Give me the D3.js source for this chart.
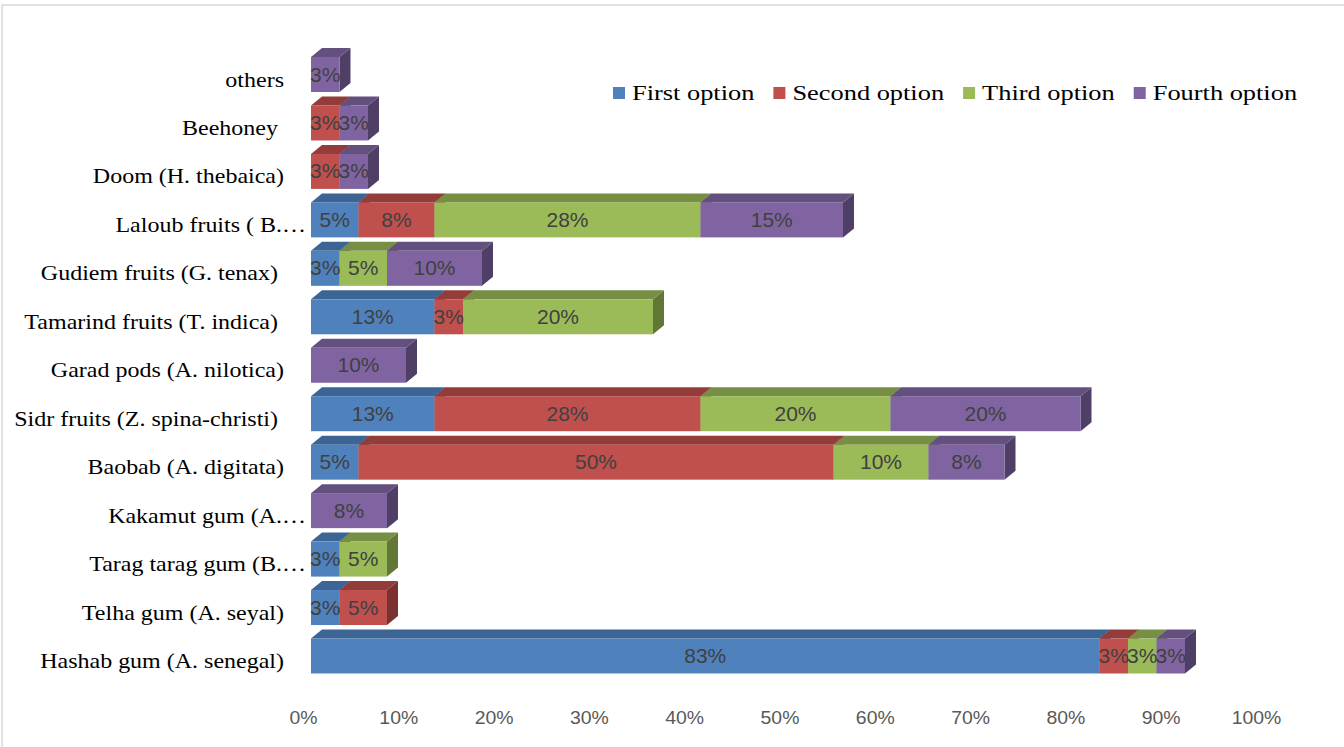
<!DOCTYPE html>
<html>
<head>
<meta charset="utf-8">
<script src="https://cdn.jsdelivr.net/npm/d3@7"></script>
<style>
  html, body { margin: 0; padding: 0; background: #fff; }
  svg { display: block; }
  text { white-space: pre; }
</style>
</head>
<body>
<svg id="chart" width="1344" height="747"></svg>
<script>
// ---- data (top row to bottom row) ----
const categories = [
  "others",
  "Beehoney ",
  "Doom (H. thebaica)",
  "Laloub fruits ( B.\u2026",
  "Gudiem fruits (G. tenax) ",
  "Tamarind fruits (T. indica) ",
  "Garad pods (A. nilotica)",
  "Sidr fruits (Z. spina-christi) ",
  "Baobab (A. digitata)",
  "Kakamut gum (A.\u2026",
  "Tarag tarag gum (B.\u2026",
  "Telha gum (A. seyal)",
  "Hashab gum (A. senegal)"
];
const seriesNames = ["First option", "Second option", "Third option", "Fourth option"];
const firstOption  = [0, 0, 0, 5, 3, 13, 0, 13, 5, 0, 3, 3, 83];
const secondOption = [0, 3, 3, 8, 0, 3, 0, 28, 50, 0, 0, 5, 3];
const thirdOption  = [0, 0, 0, 28, 5, 20, 0, 20, 10, 0, 5, 0, 3];
const fourthOption = [3, 3, 3, 15, 10, 0, 10, 20, 8, 8, 0, 0, 3];
const tickValues = [0, 10, 20, 30, 40, 50, 60, 70, 80, 90, 100];

const frontColors = ["#4F81BD", "#C0504D", "#9BBB59", "#8064A2"];
const topColors   = ["#3C6494", "#943C3A", "#778F44", "#63507F"];
const sideColors  = ["#334F73", "#7A3230", "#627636", "#4F3F66"];

// ---- build stack ----
const table = categories.map((c, i) => ({
  cat: c,
  s0: firstOption[i], s1: secondOption[i], s2: thirdOption[i], s3: fourthOption[i]
}));
const stack = d3.stack().keys(["s0", "s1", "s2", "s3"])(table);

const svg = d3.select("#chart");

// outer frame
svg.append("rect").attr("x", 2).attr("y", 5).attr("width", 1400).attr("height", 800)
  .attr("fill", "none").attr("stroke", "#D9D9D9").attr("stroke-width", 1.5);

// scales
const x = d3.scaleLinear().domain([0, 100]).range([311, 1261]);
const xAxisScale = d3.scaleLinear().domain([0, 100]).range([303, 1256]);
const y = d3.scalePoint().domain(categories).range([74.5, 656]);
const barH = 35, dx = 11, dy = 9;

// bars (per category, segments left to right)
const g = svg.append("g");
categories.forEach((c, i) => {
  const cy = y(c);
  const yT = cy - barH / 2, yB = cy + barH / 2;
  stack.forEach((layer, k) => {
    const d = layer[i];
    if (d[1] - d[0] <= 0) return;
    const x0 = x(d[0]), x1 = x(d[1]);
    // side face
    g.append("path")
      .attr("d", `M${x1},${yT}L${x1 + dx},${yT - dy}L${x1 + dx},${yB - dy}L${x1},${yB}Z`)
      .attr("fill", sideColors[k]);
    // top face
    g.append("path")
      .attr("d", `M${x0},${yT}L${x0 + dx},${yT - dy}L${x1 + dx},${yT - dy}L${x1},${yT}Z`)
      .attr("fill", topColors[k]);
    // front face
    g.append("rect")
      .attr("x", x0).attr("y", yT).attr("width", x1 - x0).attr("height", barH)
      .attr("fill", frontColors[k]);
  });
});

// value labels
const lg = svg.append("g");
categories.forEach((c, i) => {
  const cy = y(c);
  stack.forEach((layer, k) => {
    const d = layer[i];
    const v = d[1] - d[0];
    if (v <= 0) return;
    lg.append("text")
      .attr("transform", `translate(${(x(d[0]) + x(d[1])) / 2},${cy + 7}) scale(1.05,1)`)
      .attr("text-anchor", "middle")
      .attr("font-family", "Liberation Sans, Arial, sans-serif")
      .attr("font-size", 20)
      .attr("fill", "#404040")
      .text(v + "%");
  });
});

// category labels
const cg = svg.append("g");
categories.forEach(c => {
  const ax = c.includes("\u2026") ? 306 : 284;
  cg.append("text")
    .attr("transform", `translate(${ax},${y(c) + 12}) scale(1.2,1)`)
    .attr("text-anchor", "end")
    .attr("font-family", "Liberation Serif, Times New Roman, serif")
    .attr("font-size", 20)
    .attr("fill", "#000")
    .text(c);
});

// x axis tick labels
const xAxis = d3.axisBottom(xAxisScale).tickValues(tickValues).tickSize(0).tickPadding(0)
  .tickFormat(d => d + "%");
const ax = svg.append("g").attr("transform", "translate(0,706)").call(xAxis);
ax.select(".domain").remove();
ax.selectAll("text")
  .attr("font-family", "Liberation Sans, Arial, sans-serif")
  .attr("font-size", 18)
  .attr("fill", "#595959")
  .attr("dy", 0)
  .attr("y", 18)
  .attr("transform", function() { return null; })
  .each(function() {
    const t = d3.select(this);
    t.attr("transform", null);
  });
ax.selectAll(".tick").each(function(d) {
  const tick = d3.select(this);
  tick.select("text").attr("transform", "scale(1.08,1)");
});

// legend
const leg = svg.append("g");
let lx = 613;
seriesNames.forEach((name, k) => {
  leg.append("rect").attr("x", lx).attr("y", 87).attr("width", 12).attr("height", 12)
    .attr("fill", frontColors[k]);
  const t = leg.append("text")
    .attr("transform", `translate(${lx + 19},100) scale(1.2,1)`)
    .attr("font-family", "Liberation Serif, Times New Roman, serif")
    .attr("font-size", 22)
    .attr("fill", "#000")
    .text(name);
  const w = t.node().getComputedTextLength() * 1.2;
  lx = lx + 19 + w + 19;
});
</script>
</body>
</html>
